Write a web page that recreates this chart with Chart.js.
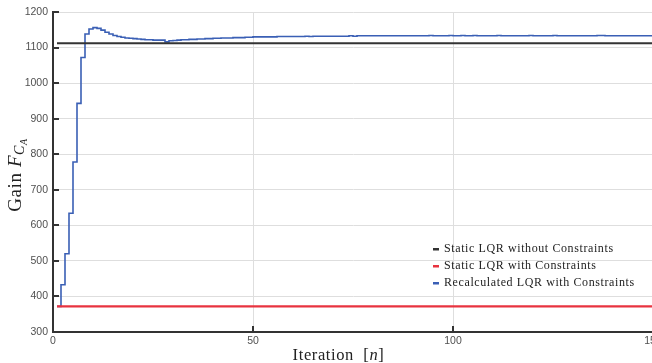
<!DOCTYPE html>
<html>
<head>
<meta charset="utf-8">
<script src="https://cdn.jsdelivr.net/npm/chart.js@4.4.0/dist/chart.umd.min.js"></script>
<style>
    html, body { margin: 0; padding: 0; background: #fff; overflow: hidden; }
    #wrap { width: 652px; height: 363px; overflow: hidden; }
</style>
</head>
<body>
<div id="wrap"><canvas id="gainChart" width="670" height="363"></canvas></div>
<script>
// ========== DATOS ==========
const xTicks = [0, 50, 100, 150];
const yTicks = [300, 400, 500, 600, 700, 800, 900, 1000, 1100, 1200];

const seriesNames = [
    'Static LQR without Constraints',
    'Static LQR with Constraints',
    'Recalculated LQR with Constraints'
];

// ganancias estáticas (constantes desde la iteración 1 hasta la 150)
const staticIter = [1, 150];
const staticSinRestr = [1112, 1112];
const staticConRestr = [372, 372];

// ganancia recalculada en cada iteración 1..150
const recalculada = [
    372, 433, 520, 634, 778, 943, 1072, 1138, 1152, 1156,
    1154, 1149, 1143, 1138, 1134, 1131, 1129, 1127, 1126, 1125,
    1124, 1123, 1122, 1122, 1121, 1121, 1121, 1116, 1119, 1120,
    1121, 1122, 1122, 1123, 1123, 1124, 1124, 1125, 1125, 1126,
    1126, 1127, 1127, 1127, 1128, 1128, 1128, 1129, 1129, 1130,
    1130, 1130, 1130, 1130, 1130, 1131, 1131, 1131, 1131, 1131,
    1131, 1131, 1132, 1131, 1132, 1132, 1132, 1132, 1132, 1132,
    1132, 1132, 1132, 1133, 1132, 1133, 1133, 1133, 1133, 1133,
    1133, 1133, 1133, 1133, 1133, 1133, 1133, 1133, 1133, 1133,
    1133, 1133, 1133, 1134, 1133, 1133, 1133, 1133, 1134, 1133,
    1133, 1134, 1133, 1133, 1134, 1133, 1133, 1133, 1133, 1133,
    1134, 1133, 1133, 1133, 1133, 1133, 1133, 1133, 1134, 1133,
    1133, 1133, 1133, 1133, 1134, 1133, 1133, 1133, 1133, 1133,
    1133, 1133, 1133, 1133, 1133, 1134, 1134, 1133, 1133, 1133,
    1133, 1133, 1133, 1133, 1133, 1133, 1133, 1133, 1133, 1133
];

const colores = ['#333333', '#e8333f', '#3a5fb5'];

// ========== UTILIDADES ==========
function puntos(xs, ys) {
    return xs.map((x, i) => ({ x: x, y: ys[i] }));
}

const serif = '"Liberation Serif", "DejaVu Serif", serif';
const sans = '"Liberation Sans", Arial, sans-serif';

// marcas de graduación hacia dentro del área de trazado
const ticksInternos = {
    id: 'ticksInternos',
    afterDatasetsDraw(chart) {
        const ctx = chart.ctx;
        const a = chart.chartArea;
        const sx = chart.scales.x, sy = chart.scales.y;
        ctx.save();
        ctx.strokeStyle = '#333';
        ctx.lineWidth = 2;
        ctx.beginPath();
        yTicks.forEach(v => {
            const y = Math.round(sy.getPixelForValue(v));
            ctx.moveTo(a.left, y);
            ctx.lineTo(a.left + 6, y);
        });
        xTicks.forEach(v => {
            const x = Math.round(sx.getPixelForValue(v));
            ctx.moveTo(x, a.bottom);
            ctx.lineTo(x, a.bottom - 6);
        });
        ctx.stroke();
        ctx.restore();
    }
};

// títulos de ejes con subíndices y leyenda interior
const textos = {
    id: 'textos',
    afterDraw(chart) {
        const ctx = chart.ctx;
        ctx.save();
        ctx.fillStyle = '#222';
        ctx.textBaseline = 'alphabetic';
        ctx.letterSpacing = '0.6px';

        // eje X: Iteration [n]
        const partesX = [
            { t: 'Iteration  [', f: '16.5px ' + serif, dy: 0 },
            { t: 'n', f: 'italic 16.5px ' + serif, dy: 0 },
            { t: ']', f: '16.5px ' + serif, dy: 0 }
        ];
        dibujarPartes(ctx, partesX, 338.5, 360);

        // eje Y: Gain F_{C_A}
        ctx.save();
        ctx.translate(21, 175);
        ctx.rotate(-Math.PI / 2);
        const partesY = [
            { t: 'Gain ', f: '19px ' + serif, dy: 0 },
            { t: 'F', f: 'italic 19px ' + serif, dy: 0 },
            { t: 'C', f: 'italic 14px ' + serif, dy: 3 },
            { t: 'A', f: 'italic 10px ' + serif, dy: 6 }
        ];
        dibujarPartes(ctx, partesY, 0, 0);
        ctx.restore();

        // leyenda
        const x0 = 433, y0 = 249, paso = 17;
        seriesNames.forEach((nombre, i) => {
            const y = y0 + i * paso;
            ctx.fillStyle = colores[i];
            ctx.fillRect(x0, y - 1, 6, 2.5);
            ctx.fillStyle = '#222';
            ctx.font = '12px ' + serif;
            ctx.textBaseline = 'middle';
            ctx.textAlign = 'left';
            ctx.fillText(nombre, x0 + 11, y);
        });
        ctx.restore();
    }
};

function dibujarPartes(ctx, partes, cx, y) {
    let ancho = 0;
    partes.forEach(p => { ctx.font = p.f; ancho += ctx.measureText(p.t).width; });
    let x = cx - ancho / 2;
    ctx.textAlign = 'left';
    partes.forEach(p => {
        ctx.font = p.f;
        ctx.fillText(p.t, x, y + p.dy);
        x += ctx.measureText(p.t).width;
    });
}

// ========== GRÁFICO ==========
const ctx = document.getElementById('gainChart').getContext('2d');
new Chart(ctx, {
    type: 'line',
    data: {
        datasets: [
            {
                label: seriesNames[0],
                data: puntos(staticIter, staticSinRestr),
                borderColor: colores[0],
                borderWidth: 2,
                pointRadius: 0
            },
            {
                label: seriesNames[1],
                data: puntos(staticIter, staticConRestr),
                borderColor: colores[1],
                borderWidth: 2.2,
                pointRadius: 0
            },
            {
                label: seriesNames[2],
                data: recalculada.map((v, i) => ({ x: i + 1, y: v })),
                borderColor: colores[2],
                borderWidth: 1.6,
                pointRadius: 0,
                stepped: true
            }
        ]
    },
    options: {
        responsive: false,
        animation: false,
        layout: { padding: { top: 12, right: 17, left: 0, bottom: 0 } },
        plugins: {
            legend: { display: false },
            tooltip: { enabled: false }
        },
        scales: {
            x: {
                type: 'linear',
                min: 0,
                max: 150,
                afterFit: s => { s.height = 31; },
                afterBuildTicks: s => { s.ticks = xTicks.map(v => ({ value: v })); },
                grid: { color: '#dedede', lineWidth: 1, drawTicks: false },
                border: { color: '#333', width: 2 },
                ticks: {
                    padding: 3,
                    color: '#505050',
                    font: { family: sans, size: 10.5 },
                    callback: v => String(v)
                }
            },
            y: {
                type: 'linear',
                min: 300,
                max: 1200,
                afterFit: s => { s.width = 53; },
                afterBuildTicks: s => { s.ticks = yTicks.map(v => ({ value: v })); },
                grid: { color: '#dedede', lineWidth: 1, drawTicks: false },
                border: { color: '#333', width: 2 },
                ticks: {
                    padding: 5,
                    color: '#505050',
                    font: { family: sans, size: 10.5 },
                    callback: v => String(v)
                }
            }
        }
    },
    plugins: [ticksInternos, textos]
});
</script>
</body>
</html>
